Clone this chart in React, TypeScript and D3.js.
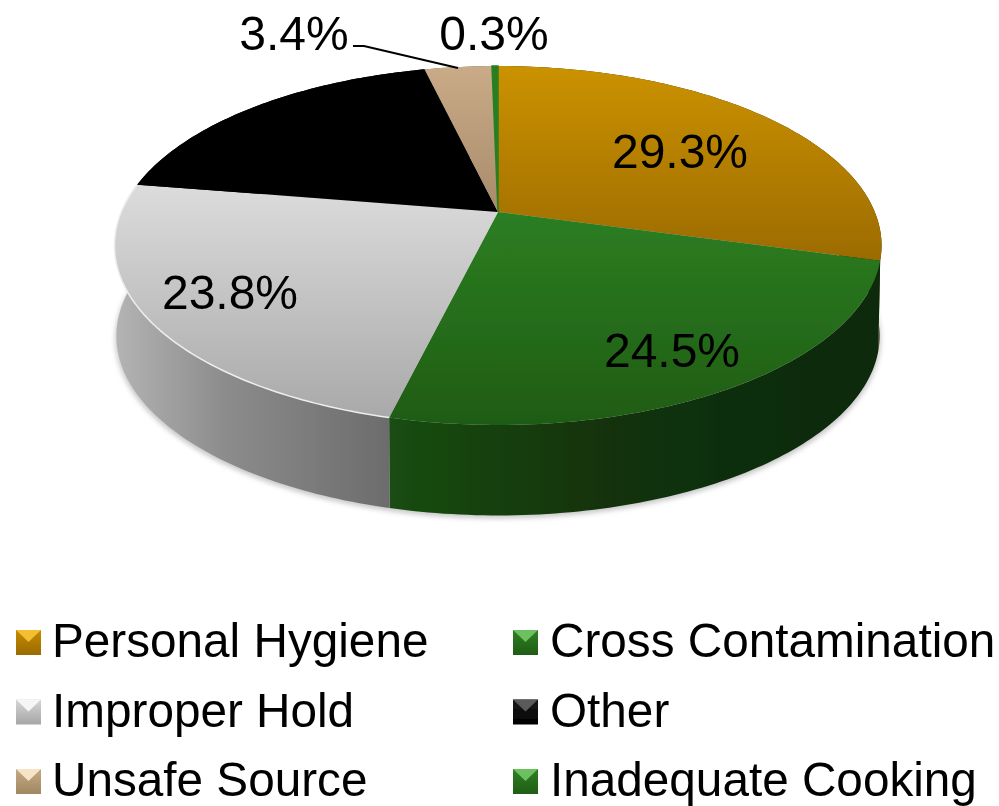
import React from "react";
import * as d3 from "d3";

const categories = ["Personal Hygiene", "Cross Contamination", "Improper Hold", "Other", "Unsafe Source", "Inadequate Cooking"];
const values = [29.3, 24.5, 23.8, 18.7, 3.4, 0.3];
const topStops = [["#cb9200", "#9c6b00"], ["#2c7e22", "#1f5c14"], ["#dcdcdc", "#a9a9a9"], ["#000000", "#000000"], ["#c9ab88", "#a88b69"], ["#2c7e22", "#2c7e22"]];
// side colours, left to right: start, middle, end
const sideStops = [
  ["#2e2606", "#2e2606", "#2e2606"],
  ["#1a4d12", "#12340c", "#0f290a"],
  ["#b4b4b4", "#8c8c8c", "#6c6c6c"],
  ["#000000", "#000000", "#000000"],
  ["#75604a", "#75604a", "#75604a"],
  ["#14400e", "#14400e", "#14400e"],
];
// legend bevel: lit top face, body top, body bottom
const bevel = [
  ["#f2be30", "#c48c00", "#9a6a00"],
  ["#6cc05e", "#2f8025", "#1f5c14"],
  ["#f6f6f6", "#d6d6d6", "#a6a6a6"],
  ["#5a5a5a", "#1c1c1c", "#000000"],
  ["#f6e4c6", "#c5a985", "#a08862"],
  ["#6cc05e", "#2f8025", "#1f5c14"],
];
const labelTexts = ["29.3%", "24.5%", "23.8%", "", "3.4%", "0.3%"];

const W = 999, H = 806;
const cx = 498, apexY = 212, A = 376.8, B = 173.2, K = 0.1866;
const depth = 90.5, lowerScale = 0.995;

function project(angle: number, r = 1, dy = 0, sx = 1): [number, number] {
  const u = Math.sin(angle) * r, v = Math.cos(angle) * r;
  const w = 1 + K * v;
  return [cx + (A * sx * u) / w, apexY + dy - (B * v) / w];
}
const line = d3.line().curve(d3.curveLinear);
const arcs = d3.pie<number>().sort(null).value((d) => d)(values);

function arcPts(a0: number, a1: number, dy = 0, sx = 1): [number, number][] {
  const n = Math.max(2, Math.ceil(((a1 - a0) / (Math.PI * 2)) * 360));
  return d3.range(n + 1).map((i) => project(a0 + ((a1 - a0) * i) / n, 1, dy, sx));
}
const topPath = (a0: number, a1: number) => line([[cx, apexY], ...arcPts(a0, a1)])! + "Z";
const sidePath = (a0: number, a1: number) =>
  line([...arcPts(a0, a1), ...arcPts(a0, a1, depth, lowerScale).reverse()])! + "Z";
const lowerOutline = line(arcPts(0, Math.PI * 2, depth + 3, lowerScale * 1.003))! + "Z";

const labelPos: [number, number][] = [[680, 168], [672, 367], [230, 309], [0, 0], [294, 50], [494, 50]];
const legendX = [16, 513];
const legendTextX = [52, 550];
const legendY = [630, 699.5, 769];
const SZ = 25;
const font = "'Liberation Sans', Arial, sans-serif";

export default function App() {
  return (
    <svg width={W} height={H} viewBox={`0 0 ${W} ${H}`} style={{ position: "absolute", left: 0, top: 0, display: "block", background: "#fff" }}>
      <defs>
        <filter id="soft" x="-2%" y="-2%" width="104%" height="104%">
          <feGaussianBlur stdDeviation="0.55" />
        </filter>
        <filter id="shadow" x="-5%" y="-5%" width="110%" height="110%">
          <feGaussianBlur stdDeviation="2.5" />
        </filter>
        {categories.map((_, i) => (
          <React.Fragment key={i}>
            <linearGradient id={`top${i}`} x1="0" y1="0" x2="0" y2="1">
              <stop offset="0" stopColor={topStops[i][0]} />
              <stop offset="1" stopColor={topStops[i][1]} />
            </linearGradient>
            <linearGradient id={`side${i}`} x1="0" y1="0" x2="1" y2="0">
              <stop offset="0" stopColor={sideStops[i][0]} />
              <stop offset="0.4" stopColor={sideStops[i][1]} />
              <stop offset="1" stopColor={sideStops[i][2]} />
            </linearGradient>
            <linearGradient id={`leg${i}`} x1="0" y1="0" x2="0" y2="1">
              <stop offset="0" stopColor={bevel[i][1]} />
              <stop offset="1" stopColor={bevel[i][2]} />
            </linearGradient>
          </React.Fragment>
        ))}
      </defs>
      <g filter="url(#soft)">
        <path d={lowerOutline} fill="#b0b0b0" opacity={0.7} filter="url(#shadow)" />
        {arcs.map((a, i) => (
          <path key={i} d={sidePath(a.startAngle, a.endAngle)} fill={`url(#side${i})`} />
        ))}
        {arcs.map((a, i) => (
          <path key={i} d={topPath(a.startAngle, a.endAngle)} fill={`url(#top${i})`} stroke={i === 5 ? topStops[i][0] : "none"} strokeWidth={i === 5 ? 1.5 : 0} />
        ))}
        <path d={line(arcPts(arcs[2].startAngle, arcs[2].endAngle))!} fill="none" stroke="#eeeeee" strokeWidth={1.5} />
        <path d={line([[353, 46], [364, 46], [458, 68]])!} fill="none" stroke="#000" strokeWidth={2} />
        {labelTexts.map((t, i) =>
          t ? (
            <text key={i} x={labelPos[i][0]} y={labelPos[i][1]} textAnchor="middle" fontFamily={font} fontSize={48} fill="#000">
              {t}
            </text>
          ) : null
        )}
        {categories.map((c, i) => {
          const col = i % 2, row = Math.floor(i / 2);
          const x = legendX[col], y = legendY[row];
          const tri: [number, number][] = [[x, y], [x + SZ, y], [x + SZ / 2, y + SZ * 0.48]];
          return (
            <g key={c}>
              <rect x={x} y={y} width={SZ} height={SZ} fill={`url(#leg${i})`} />
              <path d={line(tri)! + "Z"} fill={bevel[i][0]} />
              <text x={legendTextX[col]} y={y + 27} fontFamily={font} fontSize={47.7} fill="#000">
                {c}
              </text>
            </g>
          );
        })}
      </g>
    </svg>
  );
}
